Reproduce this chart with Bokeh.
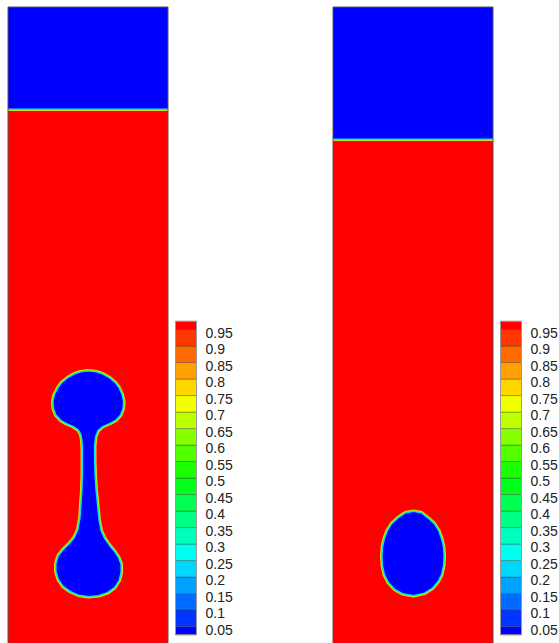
from bokeh.plotting import figure
from bokeh.models import Range1d
from bokeh.layouts import row
from bokeh.embed import file_html
from bokeh.resources import INLINE
from bokeh.core.properties import value

# ---------------- data ----------------
domain_width = 160.0
domain_height = 640.0

surface_left = 538.0
surface_right = 508.0

bubble_left_x = [80.5, 88.5, 95.5, 101.5, 107, 111, 114, 115.5, 115, 112.5, 108, 101.5, 94.5, 90,
                 87.5, 86.5, 86.5, 87, 88, 89.5, 91, 93, 96.5, 101.5, 106.5, 110.5, 113, 113,
                 111, 106.5, 99.5, 90.5, 80.5, 70.5, 62.5, 55.5, 50.5, 48, 48, 50.5, 55.5, 61.5,
                 66.5, 70, 72, 73, 74, 74.5, 74.5, 74, 73, 70.5, 65.5, 58.5, 52.5, 48, 45.5,
                 45, 46.5, 50, 54, 59.5, 65.5, 72.5]
bubble_left_y = [276, 275, 272.5, 269, 264.5, 259, 252.5, 245.5, 238.5, 232, 227, 223.5, 220.5,
                 216.5, 210.5, 201.5, 186.5, 171.5, 156.5, 141.5, 126.5, 116.5, 108.5, 101.5,
                 95.5, 89.5, 82.5, 74.5, 66.5, 59.5, 54.5, 51.5, 50.5, 52, 55.5, 60.5, 67.5,
                 75.5, 83.5, 91.5, 97.5, 103.5, 109.5, 117.5, 128.5, 141.5, 156.5, 176.5, 196.5,
                 206.5, 212.5, 217, 220.5, 223.5, 227, 232, 238.5, 245.5, 252.5, 259, 264.5,
                 269, 272.5, 275]

bubble_right_x = [80.5, 88.5, 95.5, 101, 105.5, 108.5, 110.5, 111, 110.5, 108.5, 105, 99.5, 91.5,
                  80.5, 69.5, 61.5, 55.5, 51.5, 49.5, 49, 49.5, 51.5, 54.5, 59, 65, 72.5]
bubble_right_y = [135.5, 134, 128.5, 123.5, 116.5, 108.5, 99.5, 90.5, 81.5, 72.5, 65.5, 59, 54,
                  51.5, 53.5, 58, 64.5, 72.5, 81.5, 90.5, 99.5, 108.5, 116.5, 123.5, 129, 134]

levels = [0.05, 0.10, 0.15, 0.20, 0.25, 0.30, 0.35, 0.40, 0.45, 0.50,
          0.55, 0.60, 0.65, 0.70, 0.75, 0.80, 0.85, 0.90, 0.95]
level_labels = ["0.05", "0.1", "0.15", "0.2", "0.25", "0.3", "0.35", "0.4", "0.45", "0.5",
                "0.55", "0.6", "0.65", "0.7", "0.75", "0.8", "0.85", "0.9", "0.95"]
band_bottom = [0.025] + levels
band_top = levels + [0.975]
band_colors = ["#0000FF", "#0036FF", "#006BFF", "#00A1FF", "#00D7FF", "#00FFF1", "#00FFBC",
               "#00FF86", "#00FF50", "#00FF1B", "#1BFF00", "#50FF00", "#86FF00", "#BCFF00",
               "#F1FF00", "#FFD700", "#FFA100", "#FF6B00", "#FF3600", "#FF0000"]

RED = "#FF0000"
BLUE = "#0000FF"


def make_panel(width, surface, bx, by):
    p = figure(width=width, height=643,
               x_range=Range1d(-7.5, width - 7.5),
               y_range=Range1d(646.5 - 643, 646.5),
               output_backend="svg", toolbar_location=None, min_border=0,
               outline_line_color=None, x_axis_location=None, y_axis_location=None,
               background_fill_color="white", border_fill_color="white")
    p.grid.visible = False

    # liquid background
    p.quad(left=[0], right=[domain_width], bottom=[0], top=[domain_height],
           fill_color=RED, line_color=None)
    # free surface interface
    p.segment(x0=[0], x1=[domain_width], y0=[surface], y1=[surface],
              line_color="#FFD700", line_width=4)
    p.segment(x0=[0], x1=[domain_width], y0=[surface], y1=[surface],
              line_color="#50FF00", line_width=2.6)
    p.quad(left=[0], right=[domain_width], bottom=[surface], top=[domain_height],
           fill_color=BLUE, line_color=None)
    p.segment(x0=[0], x1=[domain_width], y0=[surface], y1=[surface],
              line_color="#00E0FF", line_width=1.2)

    # bubble
    cx = bx + [bx[0]]
    cy = by + [by[0]]
    p.line(cx, cy, line_color="#FFD700", line_width=4, line_join="round")
    p.line(cx, cy, line_color="#50FF00", line_width=2.6, line_join="round")
    p.patch(bx, by, fill_color=BLUE, line_color=None)
    p.line(cx, cy, line_color="#00E0FF", line_width=1.2, line_join="round")

    # frame
    p.quad(left=[0], right=[domain_width], bottom=[0], top=[domain_height],
           fill_color=None, line_color="#555555", line_width=1)

    # colour bar
    p.extra_y_ranges = {"cbar": Range1d(-0.00136, 1.94712)}
    p.quad(left=167.5, right=188.5, bottom=band_bottom, top=band_top,
           fill_color=band_colors, line_color="#333333", line_alpha=0.35,
           line_width=1, y_range_name="cbar")
    p.quad(left=[167.5], right=[188.5], bottom=[band_bottom[0]], top=[band_top[-1]],
           fill_color=None, line_color="#999999", line_width=1, y_range_name="cbar")
    p.text(x=[197.5] * len(levels), y=levels, text=level_labels, y_range_name="cbar",
           text_font=value("Liberation Sans"), text_font_size="14px",
           text_baseline="middle", text_align="left", y_offset=3, text_color="#222222")
    return p


left = make_panel(325, surface_left, bubble_left_x, bubble_left_y)
right = make_panel(234, surface_right, bubble_right_x, bubble_right_y)

layout = row(left, right, spacing=0)
open("out.html", "w").write(file_html(layout, INLINE))
